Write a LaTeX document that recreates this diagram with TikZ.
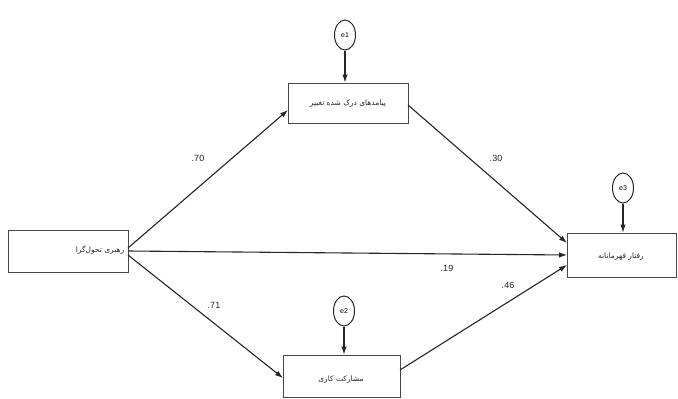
\documentclass[tikz,border=0pt]{standalone}
\usepackage{fontspec}
\setmainfont{Liberation Sans}
\newfontfamily\arabicfont[Script=Arabic]{DejaVu Sans}
\TeXXeTstate=1
\usetikzlibrary{arrows.meta,shapes.geometric}
\begin{document}
\begin{tikzpicture}[x=1pt,y=-1pt,
  box/.style={draw=black!72,line width=0.95pt,minimum height=42pt,inner sep=0pt},
  ptext/.style={font=\arabicfont\fontsize{7.5}{8}\selectfont,inner sep=0pt,text=black!85},
  err/.style={draw=black!85,line width=1pt,ellipse,minimum width=21pt,minimum height=30pt,inner sep=0pt,font=\fontsize{7}{8}\selectfont},
  conn/.style={draw=black!85,line width=1.1pt,-{Latex[length=8pt,width=5.5pt]}},
  coef/.style={font=\fontsize{9}{10}\selectfont,inner sep=0pt,text=black!85}]
\useasboundingbox (0,0) rectangle (678,399);
\fill[white] (0,0) rectangle (678,399);
\node[box,minimum width=120pt] (lead) at (68,251) {};
\node[ptext] (leadt) at (100,250) {\beginR رهبری تحول‌گرا\endR};
\node[box,minimum width=120pt,minimum height=40pt] (out) at (348,103) {};
\node[ptext] (outt) at (348,104) {\beginR پیامدهای درک شده تغییر\endR};
\node[box,minimum width=109pt,minimum height=44pt] (hero) at (621.5,255) {};
\node[ptext] (herot) at (621,257) {\beginR رفتار قهرمانانه\endR};
\node[box,minimum width=117pt,minimum height=42pt] (eng) at (341.5,376) {};
\node[ptext] (engt) at (341,380) {\beginR مشارکت کاری\endR};
\node[err] (e1) at (345,35) {e1};
\node[err] (e2) at (344,311) {e2};
\node[err] (e3) at (623,188) {e3};
\coordinate (l1) at (128,248);
\coordinate (l2) at (128,251);
\coordinate (l3) at (128,255);
\coordinate (o1) at (288,110);
\coordinate (o2) at (408,105);
\coordinate (h1) at (567,243);
\coordinate (h2) at (567,255);
\coordinate (h3) at (567,265);
\coordinate (g1) at (283,378);
\coordinate (g2) at (400,370);
\draw[conn] (e1.south) -- (e1.south |- out.north);
\draw[conn] (e2.south) -- (e2.south |- eng.north);
\draw[conn] (e3.south) -- (e3.south |- hero.north);
\draw[conn] (l1) -- (o1);
\draw[conn] (l2) -- (h2);
\draw[conn] (l3) -- (g1);
\draw[conn] (o2) -- (h1);
\draw[conn] (g2) -- (h3);
\node[coef] (c1) at (198,158) {.70};
\node[coef] (c2) at (496,158) {.30};
\node[coef] (c3) at (447,268) {.19};
\node[coef] (c4) at (214,305) {.71};
\node[coef] (c5) at (508,285) {.46};
\end{tikzpicture}
\end{document}
